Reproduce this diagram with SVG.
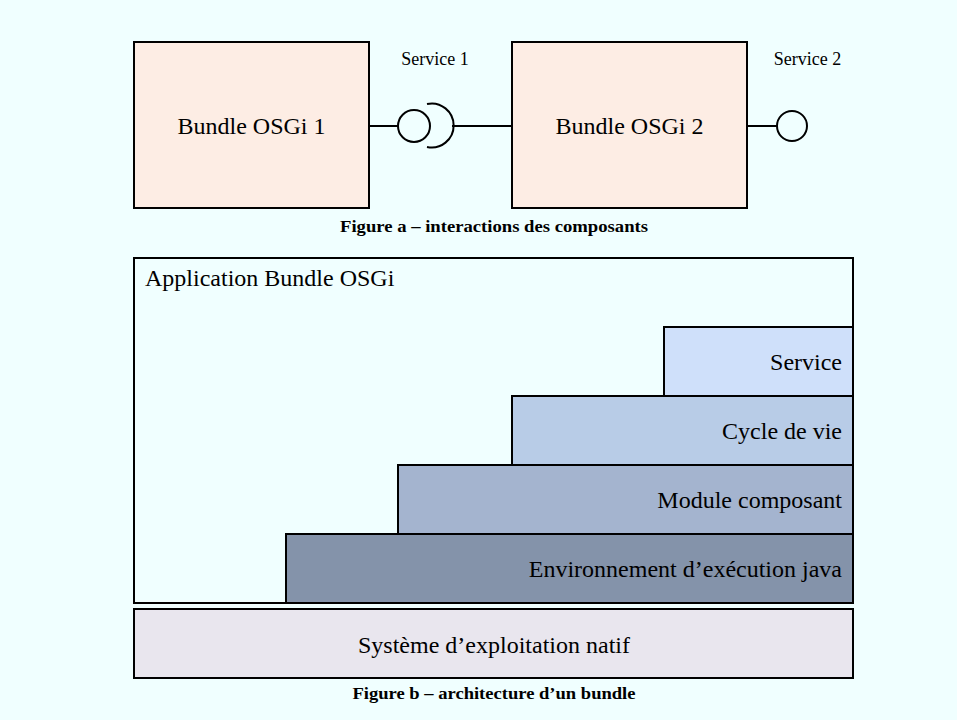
<svg xmlns="http://www.w3.org/2000/svg" width="957" height="720" viewBox="0 0 957 720">
<style>
.box{stroke:#000;stroke-width:2}
.ln{stroke:#000;stroke-width:2;fill:none}
.t{font-family:"Liberation Serif","Times New Roman",serif;fill:#000}
.big{font-size:24px}
.small{font-size:18px}
.cap{font-size:17px;font-weight:bold}
</style>
<rect x="0" y="0" width="957" height="720" fill="#F0FFFF"/>
<g id="figure-a">
  <g id="bundle1">
    <rect class="box" x="134" y="42" width="235" height="166" fill="#FDEDE4"/>
    <text class="t big" x="251.5" y="134" text-anchor="middle">Bundle OSGi 1</text>
  </g>
  <g id="bundle2">
    <rect class="box" x="512" y="42" width="235" height="166" fill="#FDEDE4"/>
    <text class="t big" x="629.5" y="134" text-anchor="middle">Bundle OSGi 2</text>
  </g>
  <g id="connectors">
    <line class="ln" x1="369" y1="126" x2="398" y2="126"/>
    <circle class="ln" cx="414" cy="126" r="16"/>
    <path class="ln" d="M427,104 A22,22 0 1 1 427,147"/>
    <line class="ln" x1="452" y1="126" x2="512" y2="126"/>
    <line class="ln" x1="747" y1="126" x2="777" y2="126"/>
    <circle class="ln" cx="792" cy="126" r="15"/>
  </g>
  <g id="service1-label"><text class="t small" x="435" y="65" text-anchor="middle">Service 1</text></g>
  <g id="service2-label"><text class="t small" x="807.5" y="65" text-anchor="middle">Service 2</text></g>
  <text class="t cap" x="494" y="232" text-anchor="middle" textLength="308" lengthAdjust="spacingAndGlyphs">Figure a – interactions des composants</text>
</g>
<g id="figure-b">
  <g id="application">
    <rect class="box" x="134" y="258" width="719" height="345" fill="#F0FFFF"/>
    <text class="t big" x="145" y="286">Application Bundle OSGi</text>
  </g>
  <g id="layer-service">
    <rect class="box" x="664" y="327" width="189" height="69" fill="#CFE0FA"/>
    <text class="t big" x="842" y="370" text-anchor="end">Service</text>
  </g>
  <g id="layer-cycle">
    <rect class="box" x="512" y="396" width="341" height="69" fill="#B8CCE7"/>
    <text class="t big" x="842" y="439" text-anchor="end">Cycle de vie</text>
  </g>
  <g id="layer-module">
    <rect class="box" x="398" y="465" width="455" height="69" fill="#A4B4CF"/>
    <text class="t big" x="842" y="508" text-anchor="end">Module composant</text>
  </g>
  <g id="layer-env">
    <rect class="box" x="286" y="534" width="567" height="69" fill="#8493AA"/>
    <text class="t big" x="842" y="577" text-anchor="end">Environnement d’exécution java</text>
  </g>
  <g id="os">
    <rect class="box" x="134" y="609" width="719" height="69" fill="#E9E6EE"/>
    <text class="t big" x="494" y="653" text-anchor="middle">Système d’exploitation natif</text>
  </g>
  <text class="t cap" x="494" y="699" text-anchor="middle" textLength="283" lengthAdjust="spacingAndGlyphs">Figure b – architecture d’un bundle</text>
</g>
</svg>
